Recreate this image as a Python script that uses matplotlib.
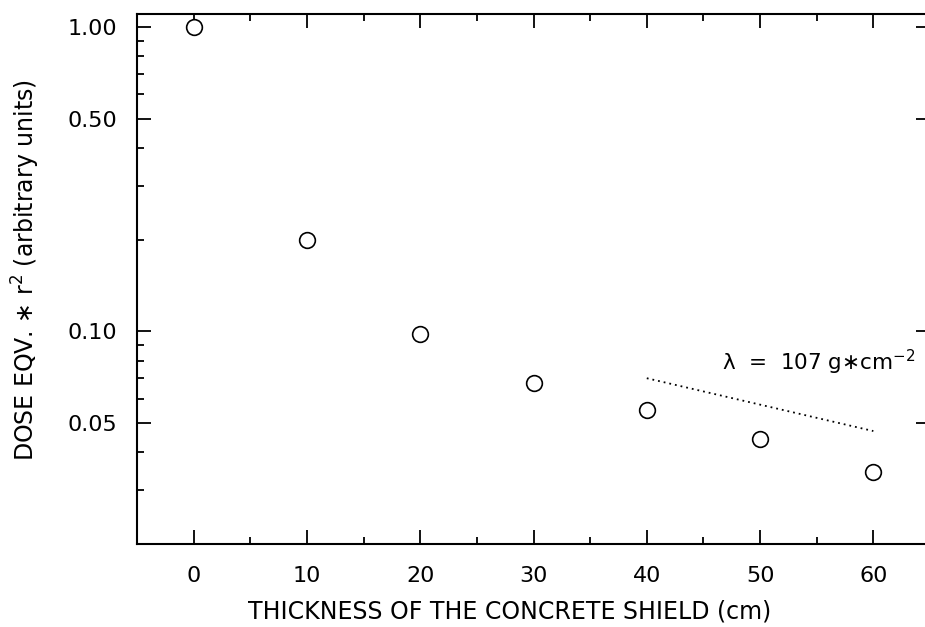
import matplotlib
matplotlib.use("Agg")
import matplotlib.pyplot as plt
from matplotlib.ticker import FixedLocator, LogLocator, NullFormatter, FormatStrFormatter

# shield thickness (cm) and dose eqv * r^2 (arbitrary units)
thickness = [0, 10, 20, 30, 40, 50, 60]
dose = [1.0, 0.20, 0.098, 0.0676, 0.0551, 0.0443, 0.0345]

# attenuation fit line, lambda = 107 g/cm^2
fit_x = [40, 60]
fit_y = [0.0701, 0.047]

plt.rcParams.update({"font.family": "DejaVu Sans"})
fig = plt.figure(figsize=(9.25, 6.27), dpi=100)
ax = fig.add_axes([137/925, 0.1324, (930-137)/925, 0.8453])

ax.plot(thickness, dose, linestyle="none", marker="o", markersize=11.3,
        markerfacecolor="white", markeredgecolor="black", markeredgewidth=1.2)
ax.plot(fit_x, fit_y, linestyle=(0, (1, 2.2)), color="black", linewidth=1.3)
ax.text(55.2, 0.079, "λ  =  107 g∗cm$^{-2}$", fontsize=15.5,
        ha="center", va="center")

ax.set_yscale("log")
ax.set_xlim(-5, 65)
ax.set_ylim(0.02, 1.103)

ax.yaxis.set_major_locator(FixedLocator([0.05, 0.1, 0.5, 1.0]))
ax.yaxis.set_major_formatter(FormatStrFormatter("%.2f"))
ax.yaxis.set_minor_locator(LogLocator(base=10, subs=(2, 3, 4, 6, 7, 8, 9)))
ax.yaxis.set_minor_formatter(NullFormatter())
ax.xaxis.set_major_locator(FixedLocator([0, 10, 20, 30, 40, 50, 60]))
ax.xaxis.set_minor_locator(FixedLocator([5, 15, 25, 35, 45, 55]))

ax.tick_params(which="both", direction="in", top=True, right=True, width=1.3)
ax.tick_params(which="major", length=10, labelsize=16)
ax.tick_params(axis="x", which="major", pad=16)
ax.tick_params(axis="y", which="major", pad=14)
ax.tick_params(which="minor", length=5)
ax.tick_params(axis="y", which="minor", right=False)
for s in ax.spines.values():
    s.set_linewidth(1.5)
ax.spines["right"].set_visible(False)

ax.set_xlabel("THICKNESS OF THE CONCRETE SHIELD (cm)", fontsize=17)
ax.set_ylabel("DOSE EQV. ∗ r$^2$ (arbitrary units)", fontsize=17)
ax.xaxis.set_label_coords(0.47, -0.105)
ax.yaxis.set_label_coords(-0.12, 0.517)

fig.savefig("out.png", dpi=100)
